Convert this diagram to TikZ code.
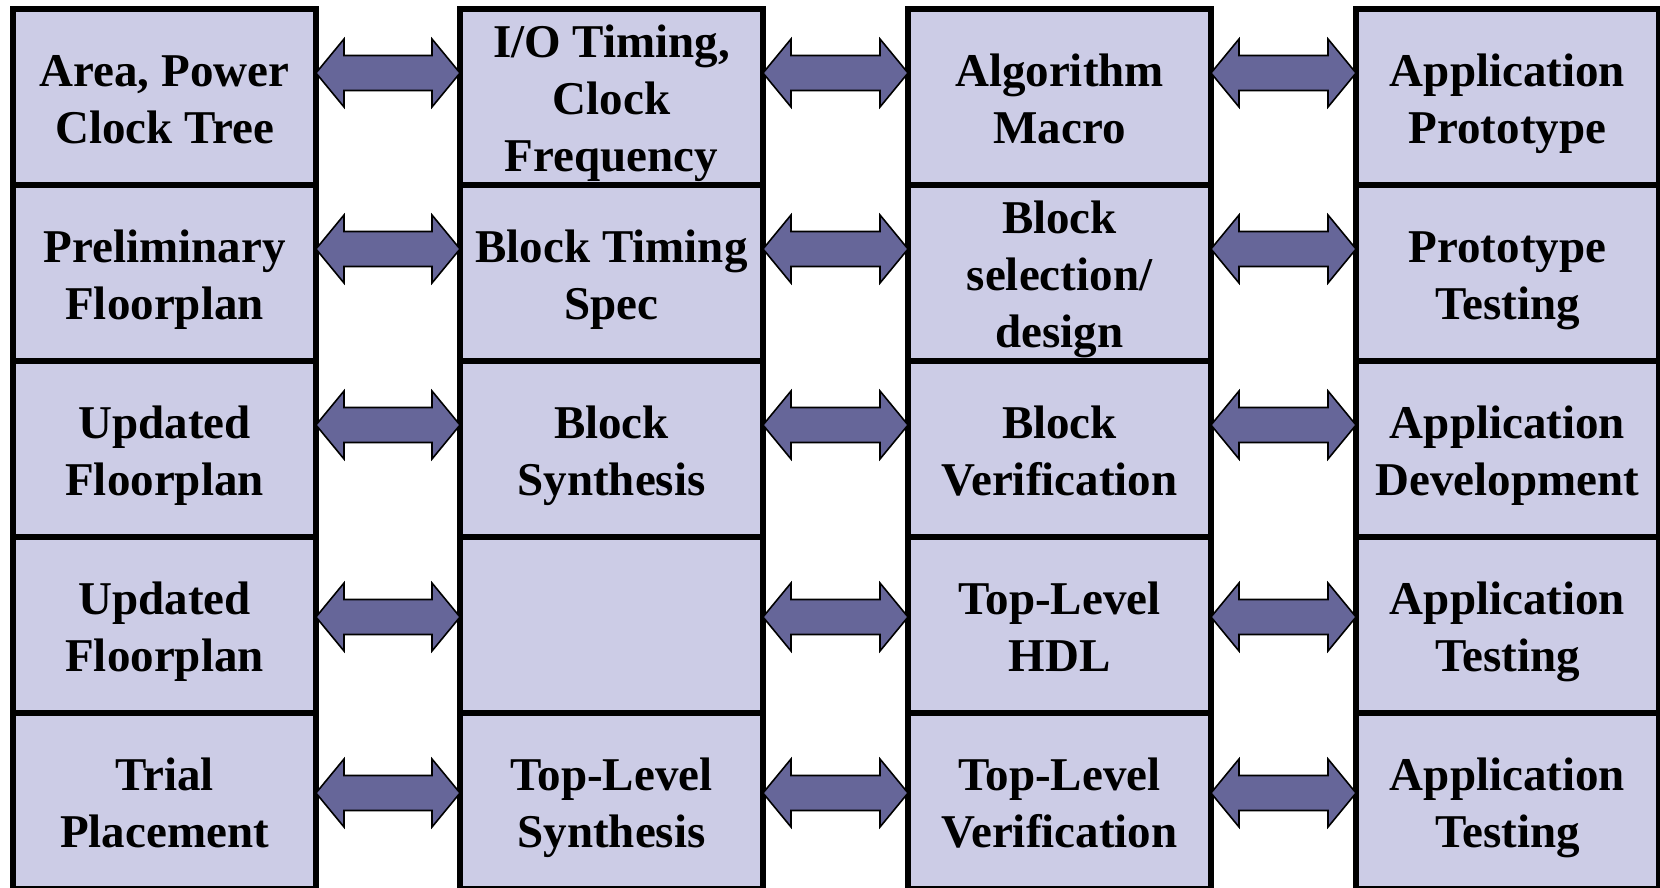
\documentclass[tikz,border=0pt]{standalone}
\usepackage{fontspec}
\setmainfont{Liberation Serif}
\usetikzlibrary{calc}

\definecolor{cellfill}{RGB}{204,204,230}
\definecolor{linkfill}{RGB}{102,102,153}

% struts for the first and last text lines of a box (46pt up, 11pt down)
\newcommand\fs{\rule[-11pt]{0pt}{57pt}}
\newcommand\ls{\rule[-11pt]{0pt}{57pt}}

% double-headed block arrow from the east side of box #1 to the west side of box #2,
% raised by #3 above the box centres
\newcommand\linkarrow[3]{%
  \draw[linkarrow] let \p1=([yshift=#3]#1.east), \p2=([yshift=#3]#2.west) in
    (\x1,\y1) -- (\x1+28pt,\y1+34pt) -- (\x1+28pt,\y1+17.5pt)
    -- (\x2-28pt,\y1+17.5pt) -- (\x2-28pt,\y1+34pt) -- (\x2,\y1)
    -- (\x2-28pt,\y1-34pt) -- (\x2-28pt,\y1-17.5pt)
    -- (\x1+28pt,\y1-17.5pt) -- (\x1+28pt,\y1-34pt) -- cycle;}

\begin{document}
\begin{tikzpicture}[x=1pt,y=-1pt,
  cell/.style={draw=black, line width=6pt, fill=cellfill,
    minimum width=303pt, minimum height=176pt, inner sep=0pt, outer sep=0pt,
    align=center, font=\bfseries\fontsize{47}{57}\selectfont},
  linkarrow/.style={draw=black, line width=1.6pt, fill=linkfill, line join=miter}]
\useasboundingbox (0,0) rectangle (1660,888);
\clip (0,0) rectangle (1660,888);

% column 1
\node[cell] (r1c1) at (164.5,97)  {\fs Area, Power\\Clock Tree\ls};
\node[cell] (r2c1) at (164.5,273) {\fs Preliminary\\Floorplan\ls};
\node[cell] (r3c1) at (164.5,449) {\fs Updated\\Floorplan\ls};
\node[cell] (r4c1) at (164.5,625) {\fs Updated\\Floorplan\ls};
\node[cell] (r5c1) at (164.5,801) {\fs Trial\\Placement\ls};

% column 2
\node[cell] (r1c2) at (611.5,97)  {\fs I/O Timing,\\Clock\\Frequency\ls};
\node[cell] (r2c2) at (611.5,273) {\fs Block Timing\\Spec\ls};
\node[cell] (r3c2) at (611.5,449) {\fs Block\\Synthesis\ls};
\node[cell] (r4c2) at (611.5,625) {};
\node[cell] (r5c2) at (611.5,801) {\fs Top-Level\\Synthesis\ls};

% column 3
\node[cell] (r1c3) at (1059.5,97)  {\fs Algorithm\\Macro\ls};
\node[cell] (r2c3) at (1059.5,273) {\fs Block\\selection/\\design\ls};
\node[cell] (r3c3) at (1059.5,449) {\fs Block\\Verification\ls};
\node[cell] (r4c3) at (1059.5,625) {\fs Top-Level\\HDL\ls};
\node[cell] (r5c3) at (1059.5,801) {\fs Top-Level\\Verification\ls};

% column 4
\node[cell] (r1c4) at (1507.5,97)  {\fs Application\\Prototype\ls};
\node[cell] (r2c4) at (1507.5,273) {\fs Prototype\\Testing\ls};
\node[cell] (r3c4) at (1507.5,449) {\fs Application\\Development\ls};
\node[cell] (r4c4) at (1507.5,625) {\fs Application\\Testing\ls};
\node[cell] (r5c4) at (1507.5,801) {\fs Application\\Testing\ls};

% links between neighbouring columns
\foreach \r/\lift in {1/24pt,2/24pt,3/24pt,4/8pt,5/8pt}{
  \linkarrow{r\r c1}{r\r c2}{\lift}
  \linkarrow{r\r c2}{r\r c3}{\lift}
  \linkarrow{r\r c3}{r\r c4}{\lift}
}
\end{tikzpicture}
\end{document}
